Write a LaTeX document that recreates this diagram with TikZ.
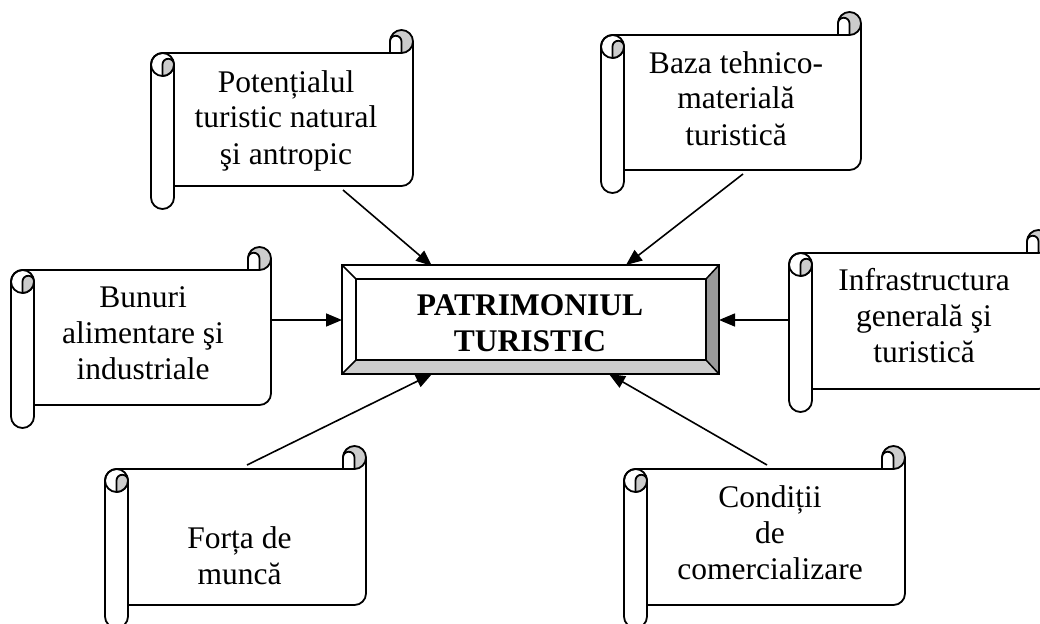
\documentclass[tikz,border=0pt]{standalone}
\usepackage{fontspec}
\setmainfont{Liberation Serif}
\usetikzlibrary{arrows.meta}
\definecolor{curlgrey}{gray}{0.8}
\definecolor{bevdark}{gray}{0.6}
\definecolor{bevlight}{gray}{0.8}
\tikzset{
  scrollline/.style={line width=1.8pt, line join=round, line cap=round},
  scrolltext/.style={font=\fontsize{31.5}{36}\selectfont, align=center, inner sep=0pt},
  boxtext/.style={font=\fontsize{31.5}{36}\selectfont\bfseries, align=center, inner sep=0pt},
  bevline/.style={line width=1.5pt, line join=miter},
  conn/.style={line width=1.6pt, -{Triangle[length=16pt,width=13pt]}}
}
\newcommand\drawscroll[4]{%
 \pgfmathsetmacro\sL{#1}\pgfmathsetmacro\sT{#2}\pgfmathsetmacro\sR{#3}\pgfmathsetmacro\sB{#4}%
 \pgfmathsetmacro\sya{\sT+23}%
 \pgfmathsetmacro\syb{\sT+34.5}%
 \pgfmathsetmacro\syc{\sB-23}%
 \pgfmathsetmacro\syd{\sB-34.5}%
 \pgfmathsetmacro\sxa{\sR-23}%
 \pgfmathsetmacro\sxb{\sR-11.5}%
 \pgfmathsetmacro\syh{\sT+11.5}%
 \pgfmathsetmacro\syt{\sT+46}%
 \pgfmathsetmacro\sxl{\sL+11.5}%
 \pgfmathsetmacro\sxr{\sL+23}%
 \pgfmathsetmacro\syz{\sB-11.5}%
 % right curl
 \filldraw[scrollline, fill=curlgrey] (\sxb,\syh) circle[radius=11.5];
 \fill[white] (\sxa,\sya) -- (\sxa,\syh) arc[start angle=180,end angle=360,radius=5.75] -- (\sxb,\sya) -- cycle;
 \draw[scrollline] (\sxa,\sya) -- (\sxa,\syh) arc[start angle=180,end angle=360,radius=5.75] -- (\sxb,\sya);
 % body top
 \draw[scrollline] (\sL,\syb) arc[start angle=180,end angle=270,radius=11.5] -- (\sxb,\sya);
 % right edge and bottom
 \draw[scrollline] (\sR,\syh) -- (\sR,\syd) arc[start angle=0,end angle=90,radius=11.5] -- (\sxr,\syc);
 % roll
 \draw[scrollline] (\sL,\syb) -- (\sL,\syz) arc[start angle=180,end angle=0,radius=11.5] -- (\sxr,\syb);
 \draw[scrollline] (\sxl,\syb) circle[radius=11.5];
 \filldraw[scrollline, fill=curlgrey] (\sxl,\syt) -- (\sxl,\syb) arc[start angle=180,end angle=360,radius=5.75] arc[start angle=0,end angle=90,radius=11.5] -- cycle;
}
\begin{document}
\begin{tikzpicture}[x=1pt,y=-1pt]
\useasboundingbox (0,0) rectangle (1040,623);
\clip (0,0) rectangle (1040,623);

% scroll shapes
\begin{scope}\drawscroll{151}{30}{413}{209}\end{scope}
\begin{scope}\drawscroll{601}{12}{861}{193}\end{scope}
\begin{scope}\drawscroll{11}{247}{271}{428}\end{scope}
\begin{scope}\drawscroll{789}{230}{1050}{412}\end{scope}
\begin{scope}\drawscroll{105}{446}{366}{628}\end{scope}
\begin{scope}\drawscroll{624}{446}{905}{628}\end{scope}

% scroll texts
\node[scrolltext] (pot) at (286,120.8) {\strut Poten\char"021B ialul\\ \strut turistic natural\\ \strut {\char"015F}i antropic};
\node[scrolltext] (baza) at (736,101.8) {\strut Baza tehnico-\\ \strut material\u{a}\\ \strut turistic\u{a}};
\node[scrolltext] (bun) at (143,335.8) {\strut Bunuri\\ \strut alimentare {\char"015F}i\\ \strut industriale};
\node[scrolltext] (inf) at (924,318.8) {\strut Infrastructura\\ \strut general\u{a} {\char"015F}i\\ \strut turistic\u{a}};
\node[scrolltext] (forta) at (239.5,559) {\strut For\char"021B a de\\ \strut munc\u{a}};
\node[scrolltext] (cond) at (770,535.8) {\strut Condi\char"021B ii\\ \strut de\\ \strut comercializare};

% central bevelled box
\node[minimum width=377pt, minimum height=109pt, inner sep=0pt] (box) at (530.5,319.5) {};
\fill[white] (342,265) -- (719,265) -- (706,279) -- (356,279) -- cycle;
\fill[white] (342,265) -- (356,279) -- (356,360) -- (342,374) -- cycle;
\fill[bevdark] (719,265) -- (719,374) -- (706,360) -- (706,279) -- cycle;
\fill[bevlight] (342,374) -- (719,374) -- (706,360) -- (356,360) -- cycle;
\draw[bevline] (342,265) rectangle (719,374);
\draw[bevline] (356,279) rectangle (706,360);
\draw[bevline] (342,265) -- (356,279);
\draw[bevline] (719,265) -- (706,279);
\draw[bevline] (342,374) -- (356,360);
\draw[bevline] (719,374) -- (706,360);
\node[boxtext] (boxlabel) at (530,326.5) {\strut PATRIMONIUL\\ \strut TURISTIC};

% connector ends
\coordinate (potOut) at (343,190);
\coordinate (potIn) at (432,266);
\coordinate (bazaOut) at (743,174);
\coordinate (bazaIn) at (626,265);
\coordinate (bunOut) at (271,320);
\coordinate (bunIn) at (342,320);
\coordinate (infOut) at (789,320);
\coordinate (infIn) at (719,320);
\coordinate (fortaOut) at (247,465);
\coordinate (fortaIn) at (432,374);
\coordinate (condOut) at (767,465);
\coordinate (condIn) at (609,374);

\draw[conn] (potOut) -- (potIn);
\draw[conn] (bazaOut) -- (bazaIn);
\draw[conn] (bunOut) -- (bunIn);
\draw[conn] (infOut) -- (infIn);
\draw[conn] (fortaOut) -- (fortaIn);
\draw[conn] (condOut) -- (condIn);
\end{tikzpicture}
\end{document}
